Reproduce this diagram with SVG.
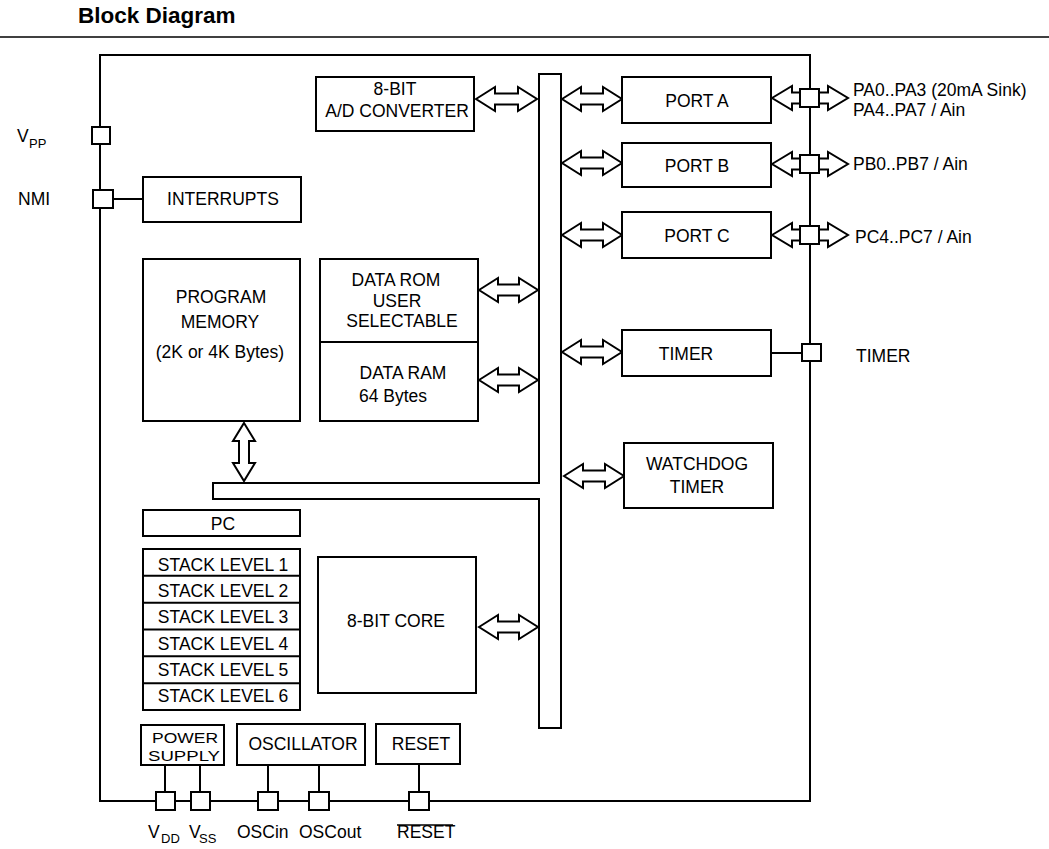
<svg xmlns="http://www.w3.org/2000/svg" width="1049" height="849" viewBox="0 0 1049 849">
<style>
  .box{fill:#fff;stroke:#000;stroke-width:2}
  .pin{fill:#fff;stroke:#000;stroke-width:2}
  .ln{fill:none;stroke:#000;stroke-width:2}
  .arr{fill:#fff;stroke:#000;stroke-width:2;stroke-linejoin:miter}
  text{font-family:"Liberation Sans",Arial,sans-serif;font-size:17.5px;fill:#000}
  .c{text-anchor:middle}
  .sub{font-size:13px}
  .sm{font-size:15px}
  .title{font-weight:bold;font-size:22.5px}
</style>
<rect width="1049" height="849" fill="#fff"/>
<text class="title" x="78" y="23">Block Diagram</text>
<line x1="0" y1="37" x2="1049" y2="37" stroke="#000" stroke-width="1.3"/>

<g id="chip"><rect x="100" y="55" width="710" height="746" fill="none" stroke="#000" stroke-width="2"/></g>

<g id="connectors">
  <polygon class="box" points="539,74 561,74 561,728 539,728 539,499 213,499 213,483 539,483"/>
  <path class="arr" d="M476,99 L495,87 L495,93.5 L518,93.5 L518,87 L537,99 L518,111 L518,104.5 L495,104.5 L495,111 Z"/>
  <path class="arr" d="M562,99 L581,87 L581,93.5 L603,93.5 L603,87 L622,99 L603,111 L603,104.5 L581,104.5 L581,111 Z"/>
  <path class="arr" d="M562,163 L581,151 L581,157.5 L603,157.5 L603,151 L622,163 L603,175 L603,168.5 L581,168.5 L581,175 Z"/>
  <path class="arr" d="M562,235 L581,223 L581,229.5 L603,229.5 L603,223 L622,235 L603,247 L603,240.5 L581,240.5 L581,247 Z"/>
  <path class="arr" d="M562,352 L581,340 L581,346.5 L603,346.5 L603,340 L622,352 L603,364 L603,357.5 L581,357.5 L581,364 Z"/>
  <path class="arr" d="M564,476 L583,464 L583,470.5 L605,470.5 L605,464 L624,476 L605,488 L605,481.5 L583,481.5 L583,488 Z"/>
  <path class="arr" d="M479,290 L498,278 L498,284.5 L519,284.5 L519,278 L538,290 L519,302 L519,295.5 L498,295.5 L498,302 Z"/>
  <path class="arr" d="M479,380 L498,368 L498,374.5 L519,374.5 L519,368 L538,380 L519,392 L519,385.5 L498,385.5 L498,392 Z"/>
  <path class="arr" d="M479,627 L498,615 L498,621.5 L519,621.5 L519,615 L538,627 L519,639 L519,632.5 L498,632.5 L498,639 Z"/>
  <path class="arr" d="M244,423 L255,441 L249,441 L249,463 L255,463 L244,481 L233,463 L239,463 L239,441 L233,441 Z"/>
  <path class="arr" d="M772,98 L792,86 L792,92.5 L828,92.5 L828,86 L848,98 L828,110 L828,103.5 L792,103.5 L792,110 Z"/>
  <path class="arr" d="M772,164 L792,152 L792,158.5 L828,158.5 L828,152 L848,164 L828,176 L828,169.5 L792,169.5 L792,176 Z"/>
  <path class="arr" d="M772,235 L792,223 L792,229.5 L828,229.5 L828,223 L848,235 L828,247 L828,240.5 L792,240.5 L792,247 Z"/>
  <line class="ln" x1="113" y1="199" x2="143" y2="199"/>
  <line class="ln" x1="771" y1="353" x2="802" y2="353"/>
  <line class="ln" x1="165" y1="765" x2="165" y2="792"/>
  <line class="ln" x1="200" y1="765" x2="200" y2="792"/>
  <line class="ln" x1="268" y1="765" x2="268" y2="792"/>
  <line class="ln" x1="319" y1="765" x2="319" y2="792"/>
  <line class="ln" x1="419" y1="764" x2="419" y2="792"/>
</g>

<g id="pins">
  <rect class="pin" x="92" y="127" width="18" height="17"/>
  <rect class="pin" x="93" y="190" width="20" height="18"/>
  <rect class="pin" x="800" y="89" width="19" height="18"/>
  <rect class="pin" x="800" y="155" width="19" height="18"/>
  <rect class="pin" x="800" y="226" width="19" height="18"/>
  <rect class="pin" x="802" y="344" width="19" height="17"/>
  <rect class="pin" x="156" y="792" width="19" height="18"/>
  <rect class="pin" x="191" y="792" width="19" height="18"/>
  <rect class="pin" x="258" y="792" width="20" height="18"/>
  <rect class="pin" x="309" y="792" width="20" height="18"/>
  <rect class="pin" x="409" y="792" width="20" height="18"/>
</g>

<g id="adc"><rect class="box" x="316" y="77" width="158" height="54"/>
  <text class="c" x="395" y="95">8-BIT</text><text class="c" x="397" y="117">A/D CONVERTER</text></g>
<g id="porta"><rect class="box" x="622" y="77" width="149" height="46"/><text class="c" x="697" y="107">PORT A</text></g>
<g id="portb"><rect class="box" x="622" y="143" width="149" height="44"/><text class="c" x="697" y="172">PORT B</text></g>
<g id="portc"><rect class="box" x="622" y="212" width="149" height="46"/><text class="c" x="697" y="242">PORT C</text></g>
<g id="timer"><rect class="box" x="622" y="330" width="149" height="46"/><text class="c" x="686" y="360">TIMER</text></g>
<g id="watchdog"><rect class="box" x="624" y="443" width="149" height="65"/>
  <text class="c" x="697" y="470">WATCHDOG</text><text class="c" x="697" y="493">TIMER</text></g>
<g id="interrupts"><rect class="box" x="143" y="177" width="158" height="45"/><text class="c" x="223" y="205">INTERRUPTS</text></g>
<g id="progmem"><rect class="box" x="143" y="259" width="157" height="162"/>
  <text class="c" x="221" y="303">PROGRAM</text><text class="c" x="220" y="328">MEMORY</text><text class="c" x="220" y="358">(2K or 4K Bytes)</text></g>
<g id="datamem"><rect class="box" x="320" y="259" width="158" height="162"/>
  <line class="ln" x1="320" y1="342" x2="478" y2="342"/>
  <text class="c" x="396" y="286">DATA ROM</text><text class="c" x="397" y="307">USER</text><text class="c" x="402" y="327">SELECTABLE</text>
  <text class="c" x="403" y="379">DATA RAM</text><text x="359" y="402">64 Bytes</text></g>
<g id="pc"><rect class="box" x="143" y="510" width="157" height="26"/><text class="c" x="223" y="530">PC</text></g>
<g id="stack"><rect class="box" x="143" y="549" width="157" height="161"/>
  <line class="ln" x1="143" y1="575.8" x2="300" y2="575.8"/>
  <line class="ln" x1="143" y1="602.7" x2="300" y2="602.7"/>
  <line class="ln" x1="143" y1="629.5" x2="300" y2="629.5"/>
  <line class="ln" x1="143" y1="656.3" x2="300" y2="656.3"/>
  <line class="ln" x1="143" y1="683.2" x2="300" y2="683.2"/>
  <text class="c" x="223" y="571">STACK LEVEL 1</text>
  <text class="c" x="223" y="597">STACK LEVEL 2</text>
  <text class="c" x="223" y="623">STACK LEVEL 3</text>
  <text class="c" x="223" y="650">STACK LEVEL 4</text>
  <text class="c" x="223" y="676">STACK LEVEL 5</text>
  <text class="c" x="223" y="702">STACK LEVEL 6</text></g>
<g id="core"><rect class="box" x="318" y="557" width="158" height="136"/><text class="c" x="396" y="627">8-BIT CORE</text></g>
<g id="power"><rect class="box" x="141" y="725" width="83" height="40"/>
  <text class="c sm" x="185" y="743" textLength="66" lengthAdjust="spacingAndGlyphs">POWER</text>
  <text class="c sm" x="184" y="761" textLength="72" lengthAdjust="spacingAndGlyphs">SUPPLY</text></g>
<g id="osc"><rect class="box" x="237" y="724" width="128" height="41"/><text class="c" x="303" y="750">OSCILLATOR</text></g>
<g id="reset"><rect class="box" x="376" y="724" width="84" height="40"/><text class="c" x="421" y="750">RESET</text></g>

<g id="labels">
  <text x="17" y="142">V</text><text class="sub" x="29" y="148">PP</text>
  <text x="18" y="205">NMI</text>
  <text x="853" y="96">PA0..PA3 (20mA Sink)</text>
  <text x="853" y="116">PA4..PA7 / Ain</text>
  <text x="853" y="170">PB0..PB7 / Ain</text>
  <text x="855" y="243">PC4..PC7 / Ain</text>
  <text x="856" y="362">TIMER</text>
  <text x="148" y="838">V</text><text class="sub" x="161" y="843">DD</text>
  <text x="189" y="838">V</text><text class="sub" x="199" y="843">SS</text>
  <text x="237" y="838">OSCin</text>
  <text x="299" y="838">OSCout</text>
  <text x="397" y="838">RESET</text>
  <line x1="397" y1="825" x2="453" y2="825" stroke="#000" stroke-width="1.3"/>
</g>
</svg>
